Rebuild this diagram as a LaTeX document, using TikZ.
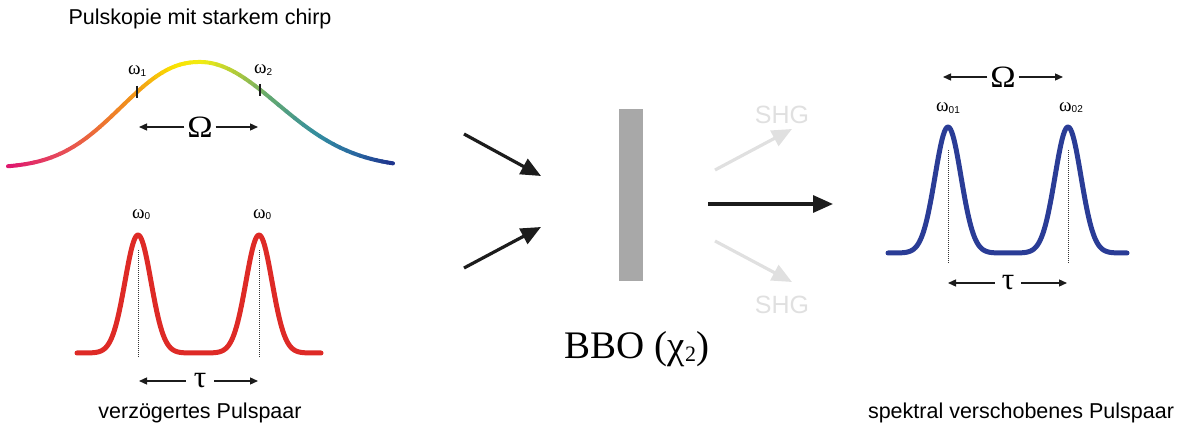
\documentclass[tikz,border=0pt]{standalone}
\usepackage{fontspec}
\setmainfont{Liberation Serif}
\setsansfont{Liberation Sans}
\usetikzlibrary{arrows.meta}

\definecolor{arrowblack}{RGB}{28,28,28}
\definecolor{shggray}{RGB}{224,224,224}
\definecolor{crystal}{RGB}{168,168,168}
\definecolor{pulsered}{RGB}{222,42,38}
\definecolor{pulseblue}{RGB}{42,60,150}
% colour stops along the chirped spectrum
\definecolor{ch0}{RGB}{222,20,112}
\definecolor{ch1}{RGB}{230,72,92}
\definecolor{ch2}{RGB}{236,112,52}
\definecolor{ch3}{RGB}{242,152,22}
\definecolor{ch4}{RGB}{250,226,0}
\definecolor{ch5}{RGB}{240,236,20}
\definecolor{ch6}{RGB}{170,200,62}
\definecolor{ch7}{RGB}{100,170,112}
\definecolor{ch8}{RGB}{50,140,160}
\definecolor{ch9}{RGB}{40,100,160}
\definecolor{ch10}{RGB}{30,50,140}

\newcommand\omlabel[1]{{\rmfamily\fontsize{19}{20}\selectfont ω}\raisebox{-1.5pt}{\sffamily\fontsize{10}{10}\selectfont #1}}
\newcommand\bigOmega{\scalebox{1.1}[1]{Ω}}

\tikzset{
  lbl/.style={font=\sffamily\fontsize{21.5}{24}\selectfont, inner sep=0pt},
  shglbl/.style={font=\sffamily\fontsize{25}{27}\selectfont, text=shggray, inner sep=0pt},
  omlbl/.style={inner sep=0pt},
  grk/.style={font=\rmfamily\fontsize{31}{33}\selectfont, inner sep=0pt},
  bigarrow/.style={draw=arrowblack, line width=3.2pt, -{Triangle[length=20pt,width=17pt]}},
  shgarrow/.style={bigarrow, draw=shggray},
  dimarrow/.style={draw=arrowblack, line width=1.3pt, -{Triangle[length=8pt,width=7pt]}},
  peakmark/.style={draw=black!80, line width=0.6pt, dash pattern=on 1pt off 1pt},
  tickmark/.style={draw=arrowblack, line width=1.6pt},
  chirpline/.style={line width=4pt, line cap=round},
  pulseline/.style={line width=5pt, line cap=round, line join=round},
}

\begin{document}
\begin{tikzpicture}[x=1pt, y=-1pt,
  declare function={
    chirpL(\x)=168-106*exp(-((abs(200-\x)+0.001)/102.6)^2.25);
    chirpR(\x)=168-106*exp(-0.5*((\x-200)/77.2)^2);
    chirp(\x)=(\x<200)*chirpL(\x)+(\x>=200)*chirpR(\x);
    redpair(\x)=353-118*(exp(-0.5*((\x-138)/13)^2)+exp(-0.5*((\x-259)/13)^2));
    bluepair(\x)=253-126*(exp(-0.5*((\x-948)/13)^2)+exp(-0.5*((\x-1068)/13)^2));
  }]
\useasboundingbox (0,0) rectangle (1179,428);

% ---------- strongly chirped pulse copy ----------
\node[lbl, anchor=base] (title) at (200,25) {Pulskopie mit starkem chirp};

\foreach \xa/\xb/\ca/\cb in {8/60/ch0/ch1, 60/100/ch1/ch2, 100/137/ch2/ch3,
    137/175/ch3/ch4, 175/205/ch4/ch5, 205/240/ch5/ch6, 240/270/ch6/ch7,
    270/320/ch7/ch8, 320/360/ch8/ch9, 360/393/ch9/ch10}{
  \foreach \k in {0,...,5}{
    \pgfmathsetmacro\xs{\xa+(\xb-\xa)*\k/6}
    \pgfmathsetmacro\xe{\xa+(\xb-\xa)*(\k+1)/6}
    \pgfmathtruncatemacro\p{100-(\k+0.5)*100/6}
    \colorlet{segc}{\ca!\p!\cb}
    \draw[chirpline, draw=segc] plot[domain=\xs:\xe, samples=5] (\x, {chirp(\x)});
  }
}
\draw[tickmark] (137,86) -- (137,98);
\draw[tickmark] (260,84) -- (260,96);
\node[omlbl, anchor=base west] (w1) at (128,75) {\omlabel{1}};
\node[omlbl, anchor=base west] (w2) at (254,74) {\omlabel{2}};

\node[grk, outer xsep=3pt] (OmA) at (200,127) {\bigOmega};
\coordinate (OmAl) at (139,127);
\coordinate (OmAr) at (258,127);
\draw[dimarrow] (OmA.west) -- (OmAl);
\draw[dimarrow] (OmA.east) -- (OmAr);

% ---------- delayed pulse pair ----------
\draw[peakmark] (138,250) -- (138,357);
\draw[peakmark] (259,250) -- (259,357);
\draw[pulseline, draw=pulsered] plot[domain=77:321, samples=200] (\x, {redpair(\x)});
\node[omlbl, anchor=base west] (w0a) at (132,218) {\omlabel{0}};
\node[omlbl, anchor=base west] (w0b) at (253,218) {\omlabel{0}};

\node[grk, outer xsep=8pt] (tauA) at (200,381) {τ};
\coordinate (tauAl) at (139,381);
\coordinate (tauAr) at (258,381);
\draw[dimarrow] (tauA.west) -- (tauAl);
\draw[dimarrow] (tauA.east) -- (tauAr);
\node[lbl, anchor=base] (delayed) at (200,418) {verzögertes Pulspaar};

% ---------- nonlinear crystal ----------
\node[draw=none, fill=crystal, minimum width=24pt, minimum height=172pt, inner sep=0pt] (bbo) at (631,195) {};
\node[anchor=base, inner sep=0pt, font=\rmfamily\fontsize{39}{41}\selectfont] (bbolbl) at (637,358)
  {BBO (χ\raisebox{-3pt}{\fontsize{22}{22}\selectfont 2})};

\coordinate (inA) at (464,134);
\coordinate (inAend) at (541,176);
\coordinate (inB) at (464,268);
\coordinate (inBend) at (541,227);
\draw[bigarrow] (inA) -- (inAend);
\draw[bigarrow] (inB) -- (inBend);

\coordinate (outS) at (708,204);
\coordinate (outE) at (833,204);
\draw[bigarrow] (outS) -- (outE);

\coordinate (shgAs) at (715,170);
\coordinate (shgAe) at (792,129);
\coordinate (shgBs) at (715,241);
\coordinate (shgBe) at (792,282);
\draw[shgarrow] (shgAs) -- (shgAe);
\draw[shgarrow] (shgBs) -- (shgBe);
\node[shglbl, anchor=base] (shgA) at (782,123) {SHG};
\node[shglbl, anchor=base] (shgB) at (782,313) {SHG};

% ---------- spectrally shifted pulse pair ----------
\node[grk, outer xsep=3pt] (OmB) at (1003,77) {\bigOmega};
\coordinate (OmBl) at (943,77);
\coordinate (OmBr) at (1063,77);
\draw[dimarrow] (OmB.west) -- (OmBl);
\draw[dimarrow] (OmB.east) -- (OmBr);

\node[omlbl, anchor=base west] (w01) at (936,112) {\omlabel{01}};
\node[omlbl, anchor=base west] (w02) at (1059,111) {\omlabel{02}};

\draw[peakmark] (948,150) -- (948,263);
\draw[peakmark] (1068,150) -- (1068,263);
\draw[pulseline, draw=pulseblue] plot[domain=888:1127, samples=200] (\x, {bluepair(\x)});

\node[grk, outer xsep=7pt] (tauB) at (1008,283) {τ};
\coordinate (tauBl) at (948,283);
\coordinate (tauBr) at (1067,283);
\draw[dimarrow] (tauB.west) -- (tauBl);
\draw[dimarrow] (tauB.east) -- (tauBr);
\node[lbl, anchor=base] (shifted) at (1021,418) {spektral verschobenes Pulspaar};
\end{tikzpicture}
\end{document}
